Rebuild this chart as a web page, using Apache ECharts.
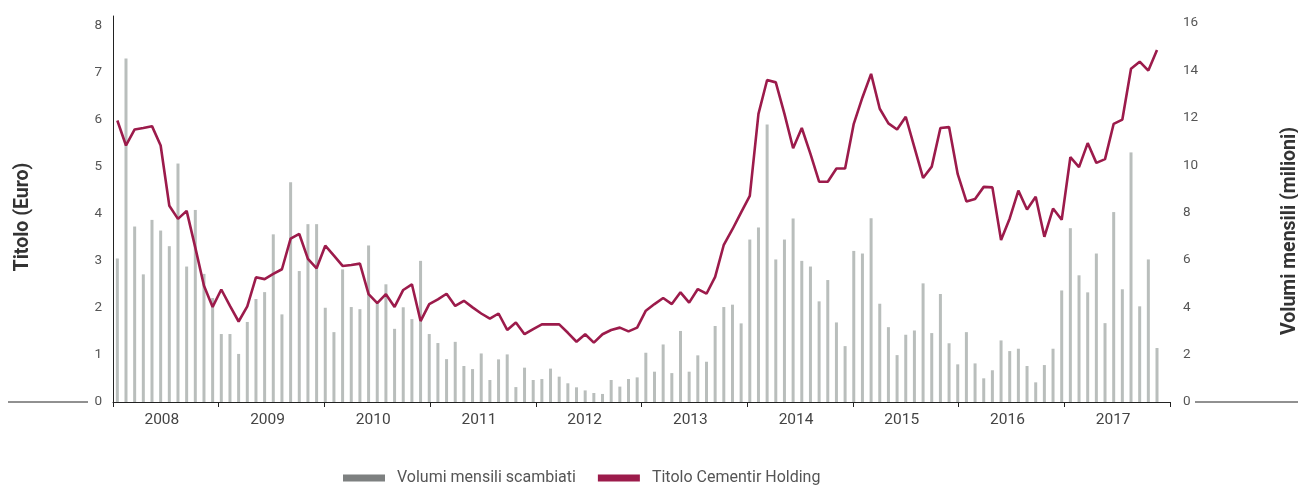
<!DOCTYPE html>
<html>
<head>
<meta charset="utf-8">
<script src="https://cdn.jsdelivr.net/npm/echarts@6/dist/echarts.min.js"></script>
<style>
  html, body { margin: 0; padding: 0; background: #fff; }
  #chart { width: 1298px; height: 486px; }
</style>
</head>
<body>
<div id="chart"></div>
<script>
// anni mostrati sull'asse orizzontale
const years = ['2008', '2009', '2010', '2011', '2012', '2013', '2014', '2015', '2016', '2017'];

// volumi mensili scambiati (milioni), da gen 2008
const volumes = [
  6.06, 14.51, 7.41, 5.39, 7.69, 7.24, 6.58, 10.07, 5.72, 8.11, 5.41, 4.39,
  2.87, 2.87, 2.03, 3.38, 4.35, 4.64, 7.08, 3.70, 9.28, 5.53, 7.51, 7.51,
  3.98, 2.95, 5.60, 4.01, 3.92, 6.61, 4.16, 4.97, 3.09, 4.00, 3.50, 5.96,
  2.87, 2.49, 1.81, 2.54, 1.52, 1.39, 2.05, 0.93, 1.80, 2.01, 0.63, 1.45,
  0.93, 0.97, 1.41, 1.07, 0.79, 0.62, 0.49, 0.38, 0.34, 0.93, 0.65, 0.97,
  1.04, 2.08, 1.28, 2.43, 1.22, 3.00, 1.28, 1.97, 1.70, 3.21, 4.01, 4.11,
  3.32, 6.86, 7.37, 11.72, 6.02, 6.86, 7.75, 5.96, 5.72, 4.25, 5.15, 3.36,
  2.36, 6.38, 6.27, 7.76, 4.15, 3.16, 1.98, 2.84, 3.02, 5.01, 2.91, 4.56,
  2.48, 1.59, 2.95, 1.63, 1.00, 1.34, 2.60, 2.15, 2.25, 1.52, 0.83, 1.56,
  2.25, 4.71, 7.34, 5.35, 4.63, 6.27, 3.33, 8.02, 4.76, 10.54, 4.04, 6.02, 2.28
];

// titolo Cementir Holding (euro)
const prices = [
  5.98, 5.45, 5.79, 5.82, 5.86, 5.45, 4.17, 3.89, 4.06, 3.28, 2.47, 2.02,
  2.39, 2.04, 1.71, 2.03, 2.65, 2.61, 2.72, 2.82, 3.47, 3.57, 3.04, 2.84,
  3.32, 3.11, 2.89, 2.91, 2.94, 2.29, 2.10, 2.29, 2.02, 2.38, 2.50, 1.72,
  2.08, 2.18, 2.30, 2.04, 2.15, 2.01, 1.88, 1.77, 1.88, 1.53, 1.69, 1.44,
  1.55, 1.65, 1.65, 1.65, 1.47, 1.28, 1.44, 1.26, 1.44, 1.53, 1.58, 1.50,
  1.58, 1.94, 2.08, 2.21, 2.08, 2.33, 2.11, 2.40, 2.30, 2.66, 3.34, 3.67,
  4.03, 4.38, 6.12, 6.84, 6.79, 6.12, 5.39, 5.82, 5.27, 4.68, 4.68, 4.96,
  4.96, 5.91, 6.47, 6.97, 6.23, 5.92, 5.79, 6.06, 5.41, 4.76, 5.00, 5.82,
  5.84, 4.84, 4.26, 4.31, 4.57, 4.56, 3.44, 3.90, 4.49, 4.09, 4.36, 3.51,
  4.11, 3.87, 5.20, 4.99, 5.50, 5.08, 5.16, 5.91, 6.00, 7.08, 7.23, 7.04, 7.48
];

// mesi (asse nascosto), uno slot in piu in coda
const months = [];
for (let i = 0; i < volumes.length + 1; i++) {
  const y = 2008 + Math.floor(i / 12);
  const m = (i % 12) + 1;
  months.push(y + '-' + (m < 10 ? '0' + m : m));
}

const FONT = 'Roboto, "Noto Sans", sans-serif';
const AXIS_COLOR = '#222';

const chart = echarts.init(document.getElementById('chart'));

chart.setOption({
  animation: false,
  textStyle: { fontFamily: FONT },
  grid: { left: 113, right: 128, top: 16, bottom: 84, outerBoundsMode: 'none', containLabel: false },
  legend: {
    left: 343,
    bottom: 0,
    padding: 0,
    itemWidth: 42,
    itemHeight: 7,
    itemGap: 22,
    icon: 'rect',
    textStyle: { fontSize: 16, color: '#555', fontFamily: FONT, padding: [0, 0, 0, 7] },
    data: [
      { name: 'Volumi mensili scambiati', itemStyle: { color: '#7d8080' } },
      { name: 'Titolo Cementir Holding', itemStyle: { color: '#9c1b4b' } }
    ]
  },
  xAxis: [
    {
      type: 'category',
      data: months,
      show: false,
      position: 'bottom'
    },
    {
      type: 'category',
      data: years,
      position: 'bottom',
      boundaryGap: true,
      axisLine: { lineStyle: { color: AXIS_COLOR, width: 1 } },
      axisTick: { show: true, length: 5, lineStyle: { color: AXIS_COLOR } },
      axisLabel: { fontSize: 15.5, color: '#444', margin: 10, padding: [0, 8, 0, 0] },
      splitLine: { show: false }
    }
  ],
  yAxis: [
    {
      type: 'value',
      min: 0,
      max: 8.2,
      interval: 1,
      name: 'Titolo (Euro)',
      nameLocation: 'middle',
      nameGap: 80,
      nameTextStyle: { fontSize: 19.5, fontWeight: 'bold', color: '#333', padding: [0, 16, 0, 0] },
      axisLine: { show: true, lineStyle: { color: AXIS_COLOR, width: 1 } },
      axisTick: { show: false },
      axisLabel: { fontSize: 13.5, color: '#555', margin: 11, showMaxLabel: false },
      splitLine: { show: false }
    },
    {
      type: 'value',
      min: 0,
      max: 16.3,
      interval: 2,
      position: 'right',
      name: 'Volumi mensili (milioni)',
      nameLocation: 'middle',
      nameGap: 110,
      nameRotate: 90,
      nameTextStyle: { fontSize: 19.5, fontWeight: 'bold', color: '#333', padding: [0, 44, 0, 0] },
      axisLine: { show: false },
      axisTick: { show: false },
      axisLabel: { fontSize: 13.5, color: '#555', margin: 13, showMaxLabel: false },
      splitLine: { show: false }
    }
  ],
  graphic: [
    { type: 'line', shape: { x1: 8, y1: 402, x2: 88, y2: 402 }, style: { stroke: AXIS_COLOR, lineWidth: 1 } },
    { type: 'line', shape: { x1: 1195, y1: 402, x2: 1298, y2: 402 }, style: { stroke: AXIS_COLOR, lineWidth: 1 } }
  ],
  series: [
    {
      name: 'Volumi mensili scambiati',
      type: 'bar',
      xAxisIndex: 0,
      yAxisIndex: 1,
      barWidth: 3,
      itemStyle: { color: '#b9bebc' },
      data: volumes
    },
    {
      name: 'Titolo Cementir Holding',
      type: 'line',
      xAxisIndex: 0,
      yAxisIndex: 0,
      symbol: 'none',
      lineStyle: { color: '#9c1b4b', width: 2.6 },
      itemStyle: { color: '#9c1b4b' },
      data: prices
    }
  ]
});

window.addEventListener('resize', () => chart.resize());
</script>
</body>
</html>
